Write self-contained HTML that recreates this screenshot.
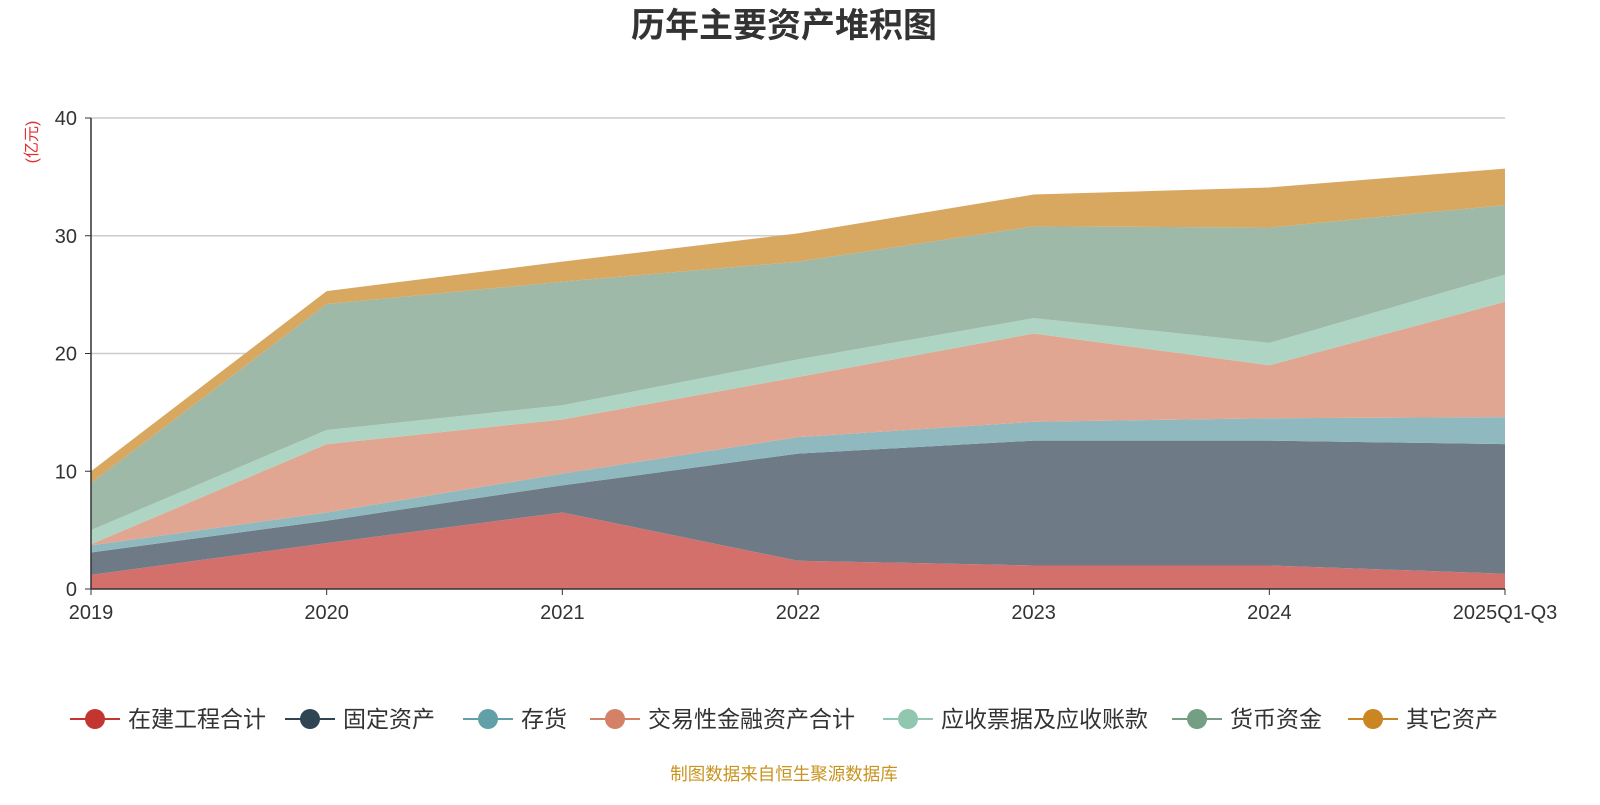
<!DOCTYPE html>
<html><head><meta charset="utf-8"><style>
body{margin:0;width:1600px;height:800px;background:#fff;font-family:"Liberation Sans","Noto Sans CJK SC",sans-serif;overflow:hidden}
</style></head><body>
<svg width="1600" height="800" id="chart" font-family="Liberation Sans, Noto Sans CJK SC, sans-serif">
<text x="784" y="37" text-anchor="middle" font-size="34" font-weight="bold" fill="#333">历年主要资产堆积图</text>
<text transform="translate(37,142) rotate(-90)" text-anchor="middle" font-size="16" fill="#e03030">(亿元)</text>
<g id="grid"></g><g id="areas"></g><g id="axes"></g><g id="legend"></g>
<text x="784" y="780" text-anchor="middle" font-size="17.5" fill="#c8941f">制图数据来自恒生聚源数据库</text>
</svg>
<script>
const categories=["2019","2020","2021","2022","2023","2024","2025Q1-Q3"];
const seriesNames=["在建工程合计","固定资产","存货","交易性金融资产合计","应收票据及应收账款","货币资金","其它资产"];
const s0=[1.2,3.9,6.5,2.4,2.0,2.0,1.3];
const s1=[1.9,1.9,2.3,9.1,10.6,10.6,11.0];
const s2=[0.6,0.7,1.0,1.4,1.6,1.9,2.3];
const s3=[0.1,5.8,4.6,5.1,7.5,4.5,9.8];
const s4=[1.2,1.2,1.2,1.5,1.3,1.9,2.3];
const s5=[4.0,10.7,10.5,8.3,7.8,9.8,5.9];
const s6=[1.0,1.1,1.7,2.4,2.7,3.4,3.1];
const yTicks=[0,10,20,30,40];
const series=[s0,s1,s2,s3,s4,s5,s6];
const fills=["#d4706c","#6e7b87","#8fb8bf","#e0a692","#aed5c4","#9eb9a7","#d8a860"];
const lcol=["#c23531","#2f4554","#61a0a8","#d48265","#91c7ae","#749f83","#ca8622"];
const X0=91,X1=1505,Y0=589,Y1=118;
const xs=i=>X0+(X1-X0)*i/(categories.length-1);
const ys=v=>Y0-(Y0-Y1)*v/40;
const NS="http://www.w3.org/2000/svg";
function mk(t,a,p){const e=document.createElementNS(NS,t);for(const k in a)e.setAttribute(k,a[k]);p.appendChild(e);return e;}
const grid=document.getElementById('grid'),areas=document.getElementById('areas'),axes=document.getElementById('axes'),legend=document.getElementById('legend');
yTicks.forEach(t=>{
 if(t>0){const l=mk('line',{x1:X0,x2:X1,y1:ys(t),y2:ys(t),stroke:'#ccc','stroke-width':1.5},grid);
 
 }
 const tx=mk('text',{x:X0-14,y:ys(t)+7,'text-anchor':'end','font-size':20,fill:'#333'},axes);tx.textContent=t;
 
 
 mk('line',{x1:X0-6,x2:X0,y1:ys(t),y2:ys(t),stroke:'#333'},axes);
});
let base=categories.map(()=>0);
series.forEach((s,k)=>{
 const top=base.map((b,i)=>b+s[i]);
 let d='M'+categories.map((c,i)=>xs(i)+','+ys(top[i])).join('L');
 for(let i=categories.length-1;i>=0;i--)d+='L'+xs(i)+','+ys(base[i]);
 const p=mk('path',{d:d+'Z',fill:fills[k]},areas);
 
 
 base=top;
});
mk('line',{x1:X0,x2:X0,y1:Y1,y2:Y0,stroke:'#333','stroke-width':1.5},axes);
mk('line',{x1:X0,x2:X1,y1:Y0,y2:Y0,stroke:'#333','stroke-width':1.5},axes);
categories.forEach((c,i)=>{
 mk('line',{x1:xs(i),x2:xs(i),y1:Y0,y2:Y0+6,stroke:'#333'},axes);
 const t=mk('text',{x:xs(i),y:Y0+30,'text-anchor':'middle','font-size':20,fill:'#333'},axes);t.textContent=c;
 
 
});
const lx=[95,310,488,615,908,1197,1373];
seriesNames.forEach((n,k)=>{
 const g=mk('g',{},legend);
 
 
 mk('line',{x1:lx[k]-25,x2:lx[k]+25,y1:719,y2:719,stroke:lcol[k],'stroke-width':2},g);
 mk('circle',{cx:lx[k],cy:719,r:10,fill:lcol[k]},g);
 const t=mk('text',{x:lx[k]+33,y:727,'font-size':23,fill:'#333'},g);t.textContent=n;
});
</script>
</body></html>
